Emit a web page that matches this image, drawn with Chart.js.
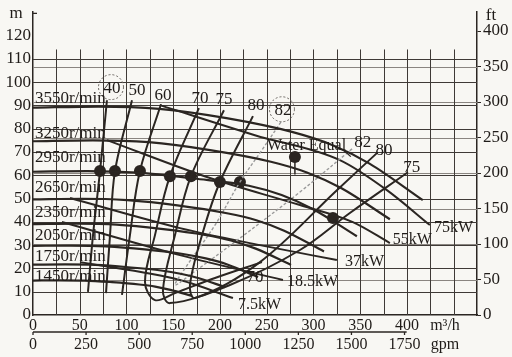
<!DOCTYPE html>
<html><head><meta charset="utf-8">
<script src="https://cdn.jsdelivr.net/npm/chart.js@4.4.1/dist/chart.umd.min.js"></script>
<style>html,body{margin:0;padding:0;background:#f8f7f3;}canvas{display:block;}</style>
</head><body>
<canvas id="c" width="512" height="357"></canvas>
<script>
// ---------- DATA (flow Q in m3/h, head H in m) ----------
const speedLabels = ['3550r/min','3250r/min','2950r/min','2650r/min','2350r/min','2050r/min','1750r/min','1450r/min'];
const q3550 = [0, 70, 135, 207, 278, 320, 360, 417];
const h3550 = [89, 89.5, 88.5, 84.5, 78.5, 73, 65, 49.3];
const q3250 = [0, 64, 123.6, 189.5, 254.5, 293, 329.6, 381.8];
const h3250 = [74.6, 75, 74.2, 70.8, 65.8, 61.2, 54.5, 41.1];
const q2950 = [0, 58.2, 112.2, 172, 231, 266, 299.2, 346.5];
const h2950 = [61.5, 61.8, 61.1, 58.6, 55.5, 51.5, 45.5, 33.8];
const q2650 = [0, 52.3, 100.8, 154.5, 207.5, 238.9, 268.7, 311.3];
const h2650 = [49.6, 49.9, 49.3, 47.1, 43.7, 40.7, 36.2, 27.3];
const q2350 = [0, 46.3, 89.4, 137, 184, 211.8, 238.3, 276];
const h2350 = [39, 39.2, 38.8, 37, 34.4, 32, 28.5, 21.5];
const q2050 = [0, 40.4, 78, 119.5, 160.5, 184.8, 207.9, 240.8];
const h2050 = [29.7, 29.8, 29.5, 28.2, 26.2, 24.3, 21.7, 16.3];
const q1750 = [0, 34.5, 66.6, 102, 137, 157.8, 177.5, 205.6];
const h1750 = [21.6, 21.7, 21.5, 20.5, 19.1, 17.7, 15.8, 11.9];
const q1450 = [0, 28.6, 55.1, 84.6, 113.6, 130.7, 147, 170.3];
const h1450 = [14.8, 14.9, 14.8, 14.1, 13.1, 12.2, 10.8, 8.2];

// efficiency (%) iso-lines
const effNames = ['40','50','60','70','75','80','82'];
const e40Q = [79.1, 71.7, 64.2, 58.8];            const e40H = [92.2, 61.8, 34.3, 9.9];
const e50Q = [105.9, 87.7, 82.4, 78.1];           const e50H = [92.2, 61.8, 34.3, 9.4];
const e60Q = [136.9, 114.4, 103.7, 95.2];         const e60H = [90.5, 61.8, 34.3, 8.6];
const e70Q = [177.5, 146.5, 130.5, 119.8, 130.5, 151.9, 194.7, 244.9];
const e70H = [88.8, 59.6, 34.3, 14.2, 6.4, 9.4, 15.9, 22.7];
const e75Q = [204.3, 169, 151.9, 139, 146.5, 210.7, 285.6, 339, 401.1];
const e75H = [87.9, 59.6, 34.3, 10.7, 5.1, 12.9, 27.9, 43.8, 61.3];
const e80Q = [235.3, 200, 181.8, 167.9, 173.3, 242.8, 325.1, 367.9];
const e80H = [85.4, 57.1, 35.6, 12.9, 7.3, 22.7, 53.6, 69.5];
const e82Q = [265.2, 244.9, 221.4, 194.7, 165, 152, 172, 221.4, 285.6, 342.2];
const e82H = [82.8, 70.8, 57.1, 38.6, 21.4, 12.9, 18.4, 33.0, 52.8, 71.6];

// motor power lines
const powerNames = ['75kW','55kW','37kW','18.5kW','7.5kW'];
const p75Q = [135.8, 237.4, 328.3, 378.6, 424.6];  const p75H = [90.1, 77.2, 66.5, 53.6, 38.6];
const p55Q = [79.1, 189.3, 285.6, 342.2, 381.8];   const p55H = [75.1, 58.8, 47.2, 39.9, 30.9];
const p37Q = [39.6, 157.2, 242.8, 325.1];          const p37H = [50.2, 37.3, 30.0, 23.6];
const p18Q = [31, 157.2, 267.4];                   const p18H = [39.9, 25.7, 15.0];
const p7Q  = [50.3, 157.2, 213.9];                 const p7H  = [22.7, 15.0, 7.3];

// "Water Equal" marker points
const dotQ = [71.7, 87.7, 114.4, 146.5, 169, 200, 221.4, 280.2, 320.9];
const dotH = [61.8, 61.8, 61.8, 59.6, 59.6, 57.1, 57.1, 67.8, 41.6];

// axis ticks
const qTicks = [0, 50, 100, 150, 200, 250, 300, 350, 400];
const mTicks = [0, 10, 20, 30, 40, 50, 60, 70, 80, 90, 100, 110, 120];
const ftTicks = [0, 50, 100, 150, 200, 250, 300, 350, 400];
const gpmTicks = [0, 250, 500, 750, 1000, 1250, 1500, 1750];

// ---------- label anchors (data units) ----------
const speedLabelH = [93.1, 78.1, 67.8, 54.9, 44.2, 34.3, 25.3, 16.7];
const effTopQ = [84.5, 111.2, 139, 178.6, 204.3, 238.5, 267.4];
const effTopH = [97.4, 96.5, 94.4, 93.1, 92.7, 90.1, 87.9];
const effRightNames = ['82','80','75','70'];
const effRightQ = [352.9, 375.4, 405.3, 237.4];
const effRightH = [74.2, 70.8, 63.1, 15.9];
const powerLabQ = [428.9, 385, 333.7, 271.7, 219.3];
const powerLabH = [37.3, 32.2, 22.7, 14.2, 4.3];

const M_PER_FT = 0.3048, GPM_PER_M3H = 4.4029;
const INK = '#2b2622';
const FONT = 'Liberation Serif';

const pts = (q, h) => q.map((v, i) => ({x: v, y: h[i]}));
const curve = (q, h, w) => ({data: pts(q, h), showLine: true, borderColor: INK, borderWidth: w,
  pointRadius: 0, tension: 0.35, fill: false});
const mono = (q, h, w) => Object.assign(curve(q, h, w), {cubicInterpolationMode: 'monotone'});

const datasets = [
  mono(q3550, h3550, 2.2), mono(q3250, h3250, 2.2), mono(q2950, h2950, 2.2), mono(q2650, h2650, 2.2),
  mono(q2350, h2350, 2.2), mono(q2050, h2050, 2.2), mono(q1750, h1750, 2.2), mono(q1450, h1450, 2.2),
  curve(e40Q, e40H, 2), curve(e50Q, e50H, 2), curve(e60Q, e60H, 2), curve(e70Q, e70H, 2),
  curve(e75Q, e75H, 2), curve(e80Q, e80H, 2),
  Object.assign(curve(e82Q, e82H, 1.4), {borderColor: '#9a9a9a', borderDash: [3, 2]}),
  mono(p75Q, p75H, 2), mono(p55Q, p55H, 2), mono(p37Q, p37H, 2), mono(p18Q, p18H, 2), mono(p7Q, p7H, 2),
  {data: [{x: dotQ[7], y: dotH[7]}, {x: dotQ[7], y: dotH[7] - 7.5}], showLine: true, borderColor: INK, borderWidth: 1.5, pointRadius: 0},
  {data: pts(dotQ, dotH), showLine: false, pointRadius: 6, pointBackgroundColor: '#2a2420', pointBorderWidth: 0}
];

const bgPlugin = {id: 'bg', beforeDraw(c) {
  const ctx = c.ctx; ctx.save(); ctx.fillStyle = '#f8f7f3'; ctx.fillRect(0, 0, c.width, c.height); ctx.restore();
}};

const gridPlugin = {id: 'grid', beforeDatasetsDraw(c) {
  const {ctx, scales: {x, y}} = c;
  ctx.save();
  ctx.lineWidth = 1;
  ctx.strokeStyle = '#8a8580';
  for (let f = 50; f <= 350; f += 50) {
    const py = Math.round(y.getPixelForValue(f * M_PER_FT)) + 0.5;
    ctx.beginPath(); ctx.moveTo(x.getPixelForValue(0), py); ctx.lineTo(x.getPixelForValue(475), py); ctx.stroke();
  }
  ctx.strokeStyle = '#3f3a36';
  for (let q = 25; q < 475; q += 25) {
    const px = Math.round(x.getPixelForValue(q)) + 0.5;
    ctx.beginPath(); ctx.moveTo(px, y.getPixelForValue(0)); ctx.lineTo(px, y.getPixelForValue(114)); ctx.stroke();
  }
  for (let h = 10; h <= 110; h += 10) {
    const py = Math.round(y.getPixelForValue(h)) + 0.5;
    ctx.beginPath(); ctx.moveTo(x.getPixelForValue(0), py); ctx.lineTo(x.getPixelForValue(475), py); ctx.stroke();
  }
  ctx.restore();
}};

const textPlugin = {id: 'texts', afterDatasetsDraw(c) {
  const {ctx, scales: {x, y}} = c;
  const X = v => x.getPixelForValue(v), Y = v => y.getPixelForValue(v);
  ctx.save();
  ctx.fillStyle = '#1f1b18';
  ctx.textBaseline = 'middle';
  ctx.font = '17px "' + FONT + '"';
  ctx.textAlign = 'left';
  speedLabels.forEach((s, i) => ctx.fillText(s, X(2.1), Y(speedLabelH[i])));
  ctx.textAlign = 'center';
  effNames.forEach((s, i) => ctx.fillText(s, X(effTopQ[i]), Y(effTopH[i])));
  effRightNames.forEach((s, i) => ctx.fillText(s, X(effRightQ[i]), Y(effRightH[i])));
  ctx.textAlign = 'left';
  ctx.font = '16px "' + FONT + '"';
  powerNames.forEach((s, i) => ctx.fillText(s, X(powerLabQ[i]), Y(powerLabH[i])));
  ctx.fillText('Water Equal', X(250.3), Y(72.5));
  // leader after "Water Equal"
  ctx.strokeStyle = INK; ctx.lineWidth = 1.3;
  ctx.beginPath(); ctx.moveTo(X(333), Y(70.5)); ctx.lineTo(X(340), Y(68)); ctx.stroke();
  // axis unit labels at the top of both vertical axes
  ctx.font = '17px "' + FONT + '"';
  ctx.textAlign = 'center';
  ctx.fillText('m', 16, Y(129.5));
  ctx.fillText('ft', 491, Y(128.6));
  ctx.beginPath(); ctx.moveTo(X(0), Y(129.5)); ctx.lineTo(X(0) + 4, Y(129.5)); ctx.stroke();
  // dotted circles round 40 and 82
  ctx.strokeStyle = '#6a6560'; ctx.lineWidth = 1; ctx.setLineDash([2, 2]);
  [0, 6].forEach(i => {
    ctx.beginPath(); ctx.arc(X(effTopQ[i]) - 1, Y(effTopH[i]) - 1, 12.5, 0, Math.PI * 2); ctx.stroke();
  });
  ctx.setLineDash([]);
  // gpm axis
  const gy = c.chartArea.bottom + 17;
  ctx.strokeStyle = INK; ctx.lineWidth = 1.3;
  ctx.beginPath(); ctx.moveTo(X(0), gy); ctx.lineTo(X(1760 / GPM_PER_M3H), gy); ctx.stroke();
  ctx.font = '16px "' + FONT + '"'; ctx.textAlign = 'center';
  gpmTicks.forEach(g => {
    const px = X(g / GPM_PER_M3H);
    ctx.beginPath(); ctx.moveTo(px, gy); ctx.lineTo(px, gy + 3); ctx.stroke();
    ctx.fillText(String(g), px, gy + 13);
  });
  ctx.fillText('m³/h', 445, c.chartArea.bottom + 11);
  ctx.fillText('gpm', 445, c.chartArea.bottom + 30);
  ctx.restore();
}};

Chart.defaults.font.family = FONT;
new Chart(document.getElementById('c'), {
  type: 'scatter',
  data: {datasets},
  options: {
    responsive: false, animation: false, devicePixelRatio: 1,
    layout: {padding: {top: 12, left: 0, right: 0, bottom: 0}},
    plugins: {legend: {display: false}, tooltip: {enabled: false}},
    scales: {
      x: {type: 'linear', min: 0, max: 475, position: 'bottom',
        grid: {display: false, drawTicks: false, tickLength: 0}, border: {display: true, color: INK, width: 1.5},
        afterBuildTicks: s => { s.ticks = qTicks.map(v => ({value: v})); },
        ticks: {font: {size: 16}, color: '#1f1b18', padding: 1, maxRotation: 0, autoSkip: false},
        afterFit: s => { s.height = 42; }},
      y: {type: 'linear', min: 0, max: 130, position: 'left',
        grid: {display: false, drawTicks: false, tickLength: 0}, border: {display: true, color: INK, width: 1.5},
        afterBuildTicks: s => { s.ticks = mTicks.map(v => ({value: v})); },
        ticks: {font: {size: 17}, color: '#1f1b18', padding: 2, autoSkip: false},
        afterFit: s => { s.width = 33; }},
      y2: {type: 'linear', min: 0, max: 130 / M_PER_FT, position: 'right',
        grid: {display: true, drawOnChartArea: false, tickLength: 4, color: INK},
        border: {display: true, color: INK, width: 1.5},
        afterBuildTicks: s => { s.ticks = ftTicks.map(v => ({value: v})); },
        ticks: {font: {size: 17}, color: '#1f1b18', padding: 2, autoSkip: false},
        afterFit: s => { s.width = 35; }}
    }
  },
  plugins: [bgPlugin, gridPlugin, textPlugin]
});
</script>
</body></html>
